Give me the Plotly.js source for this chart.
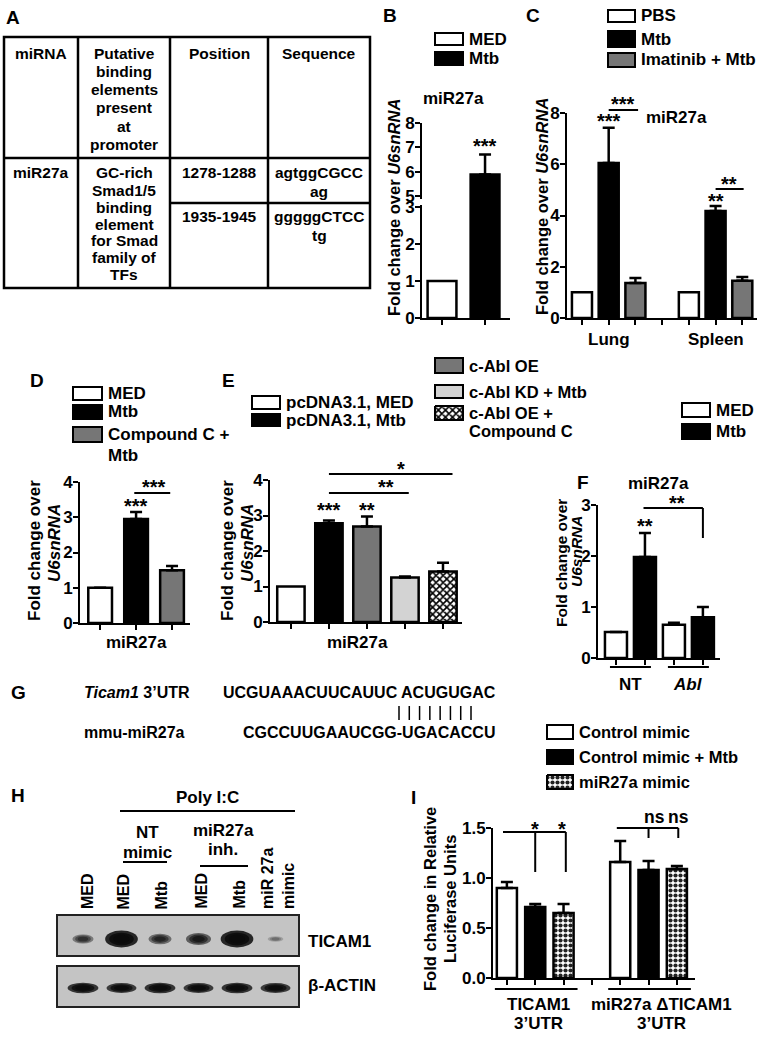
<!DOCTYPE html>
<html><head><meta charset="utf-8">
<script src="https://cdn.plot.ly/plotly-3.0.1.min.js"></script>
<style>html,body{margin:0;padding:0;background:#fff}#fig{width:760px;height:1037px}</style>
</head><body><div id="fig"></div>
<script>
// ================= DATA =================
// Panel A (table)
const tableHeader = [['miRNA'], ['Putative','binding','elements','present','at','promoter'], ['Position'], ['Sequence']];
const tableMiRNA = ['miR27a'];
const tableElement = ['GC-rich','Smad1/5','binding','element','for Smad','family of','TFs'];
const tablePositions = ['1278-1288','1935-1945'];
const tableSequences = [['agtggCGCC','ag'], ['gggggCTCC','tg']];

// Panel B
const bGroups = ['MED','Mtb'];
const bValues = [1.0, 5.88];
const bErrors = [0, 0.82];

// Panel C
const cTissues = ['Lung','Spleen'];
const cTreatments = ['PBS','Mtb','Imatinib + Mtb'];
const cPBS = [1.0, 1.0];
const cMtb = [6.05, 4.18];
const cImatinib = [1.37, 1.45];
const cPBSErr = [0, 0];
const cMtbErr = [1.37, 0.19];
const cImatinibErr = [0.19, 0.15];

// Panel D
const dGroups = ['MED','Mtb','Compound C + Mtb'];
const dValues = [1.0, 2.95, 1.5];
const dErrors = [0, 0.2, 0.12];

// Panel E
const eGroups = ['pcDNA3.1, MED','pcDNA3.1, Mtb','c-Abl OE','c-Abl KD + Mtb','c-Abl OE + Compound C'];
const eValues = [1.0, 2.78, 2.69, 1.25, 1.42];
const eErrors = [0, 0.08, 0.28, 0.03, 0.25];

// Panel F
const fKnockdown = ['NT','Abl'];
const fMED = [0.51, 0.65];
const fMtb = [1.98, 0.80];
const fMEDErr = [0, 0.04];
const fMtbErr = [0.47, 0.2];

// Panel G
const gTargetLabel = '<i>Ticam1</i> 3\u2019UTR';
const gTargetSeq = 'UCGUAAACUUCAUUC ACUGUGAC';
const gMirLabel = 'mmu-miR27a';
const gMirSeq = 'CGCCUUGAAUCGG-UGACACCU';
const gPairs = 8;

// Panel H (blot band intensities, relative)
const hLanes = ['MED','MED','Mtb','MED','Mtb','miR 27a<br>mimic'];
const hTicam1 = [0.4, 1.0, 0.5, 0.6, 1.0, 0.12];
const hActin = [0.9, 0.85, 0.9, 0.85, 0.9, 0.85];

// Panel I
const iConstructs = ['TICAM1<br>3\u2019UTR', 'miR27a \u0394TICAM1<br>3\u2019UTR'];
const iTreatments = ['Control mimic','Control mimic + Mtb','miR27a mimic'];
const iControl = [0.90, 1.16];
const iControlMtb = [0.71, 1.08];
const iMimic = [0.65, 1.09];
const iControlErr = [0.06, 0.21];
const iControlMtbErr = [0.03, 0.09];
const iMimicErr = [0.09, 0.03];

// ================= LAYOUT HELPERS =================
const FONT = 'Liberation Sans, Arial, sans-serif';
const W = 760, H = 1037;
const X = p => p / W, Y = p => 1 - p / H;
const annotations = [], shapes = [], traces = [];
const layout = {width: W, height: H, margin: {l: 0, r: 0, t: 0, b: 0}, paper_bgcolor: '#fff',
  plot_bgcolor: 'rgba(0,0,0,0)', showlegend: false, barmode: 'overlay', annotations, shapes};

const WHITE = '#ffffff', BLACK = '#000000', GRAY = '#767676', LIGHT = '#d3d3d3';
const CHECK_E = {shape: 'x', fgcolor: '#000', bgcolor: '#fff', size: 5, solidity: 0.55};
const CHECK_I = {shape: '.', fgcolor: '#222', bgcolor: '#fff', size: 5, solidity: 0.55};
const AST = 20;

function txt(text, px, py, o = {}) {
  annotations.push({text, x: X(px), y: Y(py), xref: 'paper', yref: 'paper', showarrow: false,
    xanchor: o.xa || 'center', yanchor: o.ya || 'middle', align: o.align || 'center',
    textangle: o.angle || 0, borderpad: 0,
    font: {family: FONT, size: o.size || 16, color: '#000', weight: o.weight || 'bold'}});
}
function seg(x0, y0, x1, y1, w = 2) {
  shapes.push({type: 'line', xref: 'paper', yref: 'paper', x0: X(x0), y0: Y(y0), x1: X(x1), y1: Y(y1),
    line: {color: '#000', width: w}});
}
function box(x0, y0, x1, y1, fill, w = 2, lc = '#000') {
  shapes.push({type: 'rect', xref: 'paper', yref: 'paper', x0: X(x0), y0: Y(y0), x1: X(x1), y1: Y(y1),
    fillcolor: fill, line: {color: lc, width: w}});
}
// pixel overlay axis for patterned legend swatches
layout.xaxis8 = {domain: [0, 1], range: [0, W], visible: false, fixedrange: true, anchor: 'y8'};
layout.yaxis8 = {domain: [0, 1], range: [H, 0], visible: false, fixedrange: true, anchor: 'x8'};
function patSwatch(x0, y0, x1, y1, pattern) {
  traces.push({type: 'scatter', mode: 'lines', xaxis: 'x8', yaxis: 'y8', x: [x0, x1, x1, x0, x0], y: [y0, y0, y1, y1, y0],
    fill: 'toself', fillcolor: '#fff', fillpattern: pattern, line: {color: '#000', width: 2}, hoverinfo: 'skip'});
}
function legendItem(x0, y0, x1, y1, style, label, o = {}) {
  if (style.pattern) patSwatch(x0, y0, x1, y1, style.pattern);
  else box(x0, y0, x1, y1, style.fill, 2);
  const lines = label.split('\n');
  lines.forEach((l, k) => txt(l, x1 + 5, (y0 + y1) / 2 + k * (o.lh || 20), {xa: 'left', size: o.size || 17}));
}

const tickFont = {family: FONT, size: 17, color: '#000', weight: 'bold'};
function yAxisStyle() {
  return {showline: true, linecolor: '#000', linewidth: 2, ticks: 'outside', ticklen: 5, tickwidth: 2, tickcolor: '#000',
    tickmode: 'array', tickfont: tickFont, ticklabelstandoff: -3, showgrid: false, zeroline: false, fixedrange: true};
}
function axes(n, sp) {
  const s = n === 1 ? '' : n;
  layout['xaxis' + s] = {domain: [X(sp.x[0]), X(sp.x[1])], range: sp.xr, anchor: 'y' + s, showline: true,
    linecolor: '#000', linewidth: 2, ticks: 'outside', ticklen: 5, tickwidth: 2, tickcolor: '#000',
    tickmode: 'array', tickvals: sp.xt, showticklabels: false, showgrid: false, zeroline: false, fixedrange: true};
  layout['yaxis' + s] = Object.assign(yAxisStyle(), {domain: [Y(sp.y[0]), Y(sp.y[1])], range: sp.yr, anchor: 'x' + s,
    tickvals: sp.yt, ticktext: sp.ytt});
  return {
    px: v => sp.x[0] + (v - sp.xr[0]) / (sp.xr[1] - sp.xr[0]) * (sp.x[1] - sp.x[0]),
    py: v => sp.y[0] - (v - sp.yr[0]) / (sp.yr[1] - sp.yr[0]) * (sp.y[0] - sp.y[1])
  };
}
function bars(n, xs, ys, err, style, width, yax) {
  const s = n === 1 ? '' : n;
  const t = {type: 'bar', x: xs, y: ys, xaxis: 'x' + s, yaxis: yax || ('y' + s), width: width,
    marker: {color: style.fill || WHITE, line: {color: '#000', width: 2.5}}, hoverinfo: 'skip', cliponaxis: true};
  if (style.pattern) t.marker.pattern = style.pattern;
  if (err && err.some(e => e > 0)) {
    t.error_y = {type: 'data', array: err, arrayminus: err.map(() => 0), symmetric: false, color: '#000',
      thickness: 2.5, width: 6, visible: true};
  }
  traces.push(t);
}
const idx = a => a.map((_, i) => i);

// ================= PANEL A : table =================
txt('A', 13, 18, {size: 19});
box(4, 37, 370, 288, 'rgba(0,0,0,0)', 2.5);
[78, 170, 268].forEach(x => seg(x, 37, x, 288, 2.5));
seg(4, 158, 370, 158, 2.5);
seg(170, 203, 370, 203, 2.5);
const colCenters = [41, 124, 219, 319];
tableHeader.forEach((lines, c) => lines.forEach((l, k) => txt(l, colCenters[c], 53 + k * 18.3, {size: 15.5})));
txt(tableMiRNA[0], colCenters[0], 173, {size: 15.5});
tableElement.forEach((l, k) => txt(l, colCenters[1], 173 + k * 17, {size: 15.5}));
tablePositions.forEach((p, r) => txt(p, colCenters[2], 173 + r * 44, {size: 15.5}));
tableSequences.forEach((lines, r) => lines.forEach((l, k) => txt(l, colCenters[3], 173 + r * 44 + k * 18, {size: 15.5})));

// ================= PANEL B =================
const PB = axes(1, {x: [422, 510], xr: [-0.465, 1.58], y: [318, 207], yr: [0, 3], xt: idx(bGroups), yt: [0, 1, 2, 3]});
layout.yaxis10 = Object.assign(yAxisStyle(), {domain: [Y(207), Y(123)], range: [4.547, 8], anchor: 'x', tickvals: [5, 6, 7, 8]});
const bColors = [WHITE, BLACK];
bars(1, idx(bGroups), bValues, null, {fill: bColors}, 0.67);
bars(1, idx(bGroups), bValues, bErrors, {fill: bColors}, 0.67, 'y10');
box(418, 199, 426, 205, '#fff', 0, '#fff');
txt('B', 390, 15, {size: 19});
legendItem(435, 33, 463, 45, {fill: WHITE}, bGroups[0]);
legendItem(435, 52, 463, 65, {fill: BLACK}, bGroups[1]);
txt('miR27a', 453, 99, {size: 17});
txt('Fold change over <i>U6snRNA</i>', 394, 207, {angle: -90, size: 16.5});
txt('***', PB.px(1), 146, {size: AST});

// ================= PANEL C =================
const PC = axes(2, {x: [567, 757], xr: [-0.56, 6.55], y: [318, 113], yr: [0, 8], xt: [0, 1, 2, 3, 4, 5, 6], yt: [0, 2, 4, 6, 8]});
const cSeries = [[cPBS, cPBSErr, {fill: WHITE}], [cMtb, cMtbErr, {fill: BLACK}], [cImatinib, cImatinibErr, {fill: GRAY}]];
cSeries.forEach(([v, e, st], t) => bars(2, cTissues.map((_, g) => g * 4 + t), v, e, st, 0.75));
txt('C', 533, 15, {size: 19});
legendItem(608, 10, 635, 22, {fill: WHITE}, cTreatments[0]);
legendItem(608, 31, 635, 47, {fill: BLACK}, cTreatments[1]);
legendItem(608, 53, 635, 67, {fill: GRAY}, cTreatments[2]);
txt('miR27a', 676, 117, {size: 17});
txt('Fold change over <i>U6snRNA</i>', 542, 207, {angle: -90, size: 16.5});
cTissues.forEach((t, g) => txt(t, PC.px(g * 4 + 1), 340, {size: 17}));
txt('***', PC.px(1), 121, {size: AST});
seg(PC.px(1), 110, PC.px(2.1), 110);
txt('***', PC.px(1.55), 104, {size: AST});
txt('**', PC.px(5), 201, {size: AST});
seg(PC.px(5), 189, PC.px(6.05), 189);
txt('**', PC.px(5.5), 184, {size: AST});

// ================= PANEL D =================
const PD = axes(3, {x: [80, 190], xr: [-0.56, 2.5], y: [623, 482], yr: [0, 4], xt: idx(dGroups), yt: [0, 1, 2, 3, 4]});
bars(3, idx(dGroups), dValues, dErrors, {fill: [WHITE, BLACK, GRAY]}, 0.66);
txt('D', 37, 380, {size: 19});
legendItem(73, 387, 102, 400, {fill: WHITE}, 'MED');
legendItem(73, 405, 102, 419, {fill: BLACK}, 'Mtb');
legendItem(73, 427, 102, 442, {fill: GRAY}, 'Compound C +\nMtb', {lh: 21});
txt('Fold change over', 34, 551, {angle: -90, size: 17});
txt('<i>U6snRNA</i>', 54, 543, {angle: -90, size: 17});
txt('miR27a', PD.px(1), 642, {size: 17});
txt('***', PD.px(1), 506, {size: AST});
seg(PD.px(0.95), 493, PD.px(1.95), 493);
txt('***', PD.px(1.5), 487, {size: AST});

// ================= PANEL E =================
const PE = axes(4, {x: [270, 462], xr: [-0.55, 4.5], y: [622, 480], yr: [0, 4], xt: idx(eGroups), yt: [0, 1, 2, 3, 4]});
const eStyles = [{fill: WHITE}, {fill: BLACK}, {fill: GRAY}, {fill: LIGHT}, {fill: WHITE, pattern: CHECK_E}];
eGroups.forEach((g, i) => bars(4, [i], [eValues[i]], [eErrors[i]], eStyles[i], 0.72));
txt('E', 228, 380, {size: 19});
legendItem(252, 396, 280, 409, eStyles[0], eGroups[0], {size: 17});
legendItem(252, 414, 280, 426, eStyles[1], eGroups[1], {size: 17});
legendItem(435, 358, 463, 373, eStyles[2], eGroups[2], {size: 16.5});
legendItem(435, 385, 463, 398, eStyles[3], eGroups[3], {size: 16.5});
legendItem(435, 406, 463, 420, eStyles[4], 'c-Abl OE +\nCompound C', {lh: 18, size: 16.5});
txt('Fold change over', 227, 551, {angle: -90, size: 17});
txt('<i>U6snRNA</i>', 247, 543, {angle: -90, size: 17});
txt('miR27a', PE.px(1.75), 642, {size: 17});
txt('***', PE.px(1), 510, {size: AST});
txt('**', PE.px(2), 510, {size: AST});
seg(PE.px(1), 493, PE.px(3.1), 493);
txt('**', PE.px(2.5), 487, {size: AST});
seg(PE.px(1), 474, PE.px(4.25), 474);
txt('*', PE.px(2.9), 469, {size: AST});

// ================= PANEL F =================
const PF = axes(5, {x: [598, 720], xr: [-0.62, 3.59], y: [658, 505], yr: [0, 3], xt: [0, 1, 2, 3], yt: [0, 1, 2, 3]});
bars(5, fKnockdown.map((_, g) => g * 2), fMED, fMEDErr, {fill: WHITE}, 0.76);
bars(5, fKnockdown.map((_, g) => g * 2 + 1), fMtb, fMtbErr, {fill: BLACK}, 0.76);
txt('F', 583, 482, {size: 19});
legendItem(682, 403, 710, 417, {fill: WHITE}, 'MED');
legendItem(682, 424, 710, 439, {fill: BLACK}, 'Mtb');
txt('miR27a', 658, 483, {size: 17});
txt('Fold change over', 561, 563, {angle: -90, size: 15.5});
txt('<i>U6snRNA</i>', 576, 552, {angle: -90, size: 15.5});
txt('**', PF.px(1), 526, {size: AST});
seg(PF.px(0.95), 508, PF.px(3), 508);
seg(PF.px(3), 508, PF.px(3), 538);
txt('**', PF.px(2.1), 503, {size: AST});
fKnockdown.forEach((k, g) => {
  seg(PF.px(g * 2) - 6, 667, PF.px(g * 2 + 1) + 6, 667);
  txt(g === 1 ? '<i>' + k + '</i>' : k, PF.px(g * 2 + 0.5), 684, {size: 17});
});

// ================= PANEL G =================
txt('G', 18, 692, {size: 19});
txt(gTargetLabel, 83, 692, {xa: 'left', size: 16});
txt(gTargetSeq, 222, 692, {xa: 'left', size: 16});
txt(gMirLabel, 83, 732, {xa: 'left', size: 16});
txt(gMirSeq, 242, 732, {xa: 'left', size: 16});
for (let k = 0; k < gPairs; k++) {
  const xk = 399 + k * (72 / (gPairs - 1));
  seg(xk, 706, xk, 720, 1.5);
}

// ================= PANEL H (blot) =================
const PH = axes(7, {x: [57, 299], xr: [-0.675, 5.61], y: [1007, 915], yr: [-0.388, 1.49], xt: [], yt: []});
layout.xaxis7.visible = false; layout.yaxis7.visible = false;
txt('H', 18, 795, {size: 19});
txt('Poly I:C', 207, 797, {size: 17});
seg(120, 811, 295, 811);
txt('NT', 147, 832, {size: 17}); txt('mimic', 147, 852, {size: 17}); seg(123, 862, 167, 862);
txt('miR27a', 223, 830, {size: 17}); txt('inh.', 223, 849, {size: 17}); seg(200, 866, 248, 866);
hLanes.forEach((l, i) => txt(l, PH.px(i) + (i === 0 ? 4 : 2), 910, {angle: -90, ya: 'bottom', align: 'left', size: 16}));
box(57, 915, 299, 956, '#c4c4c4', 2, '#222');
box(57, 966, 299, 1007, '#c4c4c4', 2, '#222');
function bands(vals, row, hBase, hGain) {
  vals.forEach((v, i) => {
    [1, 0.75, 0.5].forEach(s => {
      const w = (0.35 + 0.5 * v) * s, h = (hBase + hGain * v) / 49 * s;
      shapes.push({type: 'circle', xref: 'x7', yref: 'y7', x0: i - w / 2, x1: i + w / 2, y0: row - h / 2, y1: row + h / 2,
        fillcolor: '#0a0a0a', opacity: Math.min(0.95, 0.1 + 0.75 * v), line: {width: 0}});
    });
  });
}
bands(hTicam1, 1, 4, 13);
bands(hActin, 0, 5, 6);
txt('TICAM1', 307, 941, {xa: 'left', size: 17});
txt('\u03B2-ACTIN', 307, 985, {xa: 'left', size: 17});

// ================= PANEL I =================
const PI = axes(6, {x: [493, 695], xr: [-0.49, 6.64], y: [978, 828], yr: [0, 1.5], xt: [0, 1, 2, 3, 4, 5, 6],
  yt: [0, 0.5, 1, 1.5], ytt: ['0.0', '0.5', '1.0', '1.5']});
const iSeries = [[iControl, iControlErr, {fill: WHITE}], [iControlMtb, iControlMtbErr, {fill: BLACK}],
  [iMimic, iMimicErr, {fill: WHITE, pattern: CHECK_I}]];
iSeries.forEach(([v, e, st], t) => bars(6, iConstructs.map((_, g) => g * 4 + t), v, e, st, 0.71));
txt('I', 413, 797, {size: 19});
iTreatments.forEach((t, k) => legendItem(547, 725 + k * 25, 573, 739 + k * 25, iSeries[k][2], t, {size: 16.5}));
txt('Fold change in Relative', 430, 899, {angle: -90, size: 16.5});
txt('Luciferase Units', 450, 899, {angle: -90, size: 16.5});
seg(503, 832, PI.px(2.08), 832);
seg(PI.px(1), 832, PI.px(1), 872);
seg(PI.px(2.08), 832, PI.px(2.08), 872);
txt('*', PI.px(1), 829, {size: AST});
txt('*', PI.px(1.95), 829, {size: AST});
seg(PI.px(3.88), 828, PI.px(6.05), 828);
seg(PI.px(5), 828, PI.px(5), 838);
seg(PI.px(6.05), 828, PI.px(6.05), 838);
txt('ns', PI.px(5.2), 817, {size: 17.5});
txt('ns', PI.px(6.05), 817, {size: 17.5});
iConstructs.forEach((c, g) => {
  seg(PI.px(g * 4) - 12, 989, PI.px(g * 4 + 2) + 14, 989);
  c.split('<br>').forEach((l, k) => txt(l, PI.px(g * 4 + 1) + (g === 0 ? 3 : 13), 1004 + k * 19, {size: 17}));
});

Plotly.newPlot('fig', traces, layout, {staticPlot: true});
</script></body></html>
